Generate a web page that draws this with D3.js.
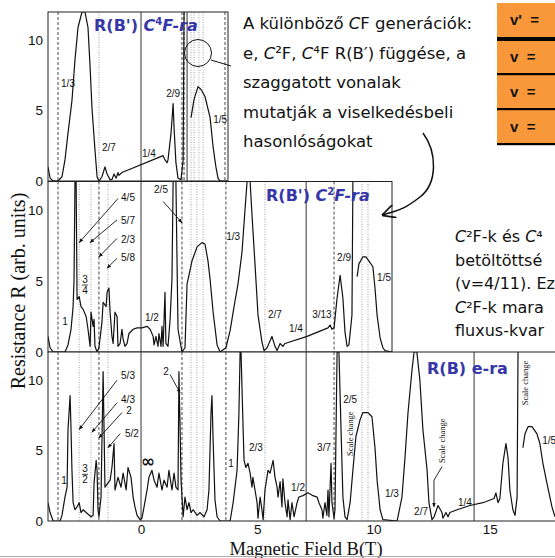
<!DOCTYPE html>
<html>
<head>
<meta charset="utf-8">
<script src="https://cdn.jsdelivr.net/npm/d3@7"></script>
<style>
  body { margin: 0; background: #fff; }
  svg { display: block; }
  .frac { font-family: "Liberation Sans", Arial, sans-serif; font-size: 10px; fill: #111; }
  .inf { font-family: "DejaVu Sans", sans-serif; font-size: 17px; font-weight: bold; fill: #111; }
  .scale { font-family: "Liberation Serif", serif; font-size: 8.5px; fill: #111; }
  .slide { font-family: "DejaVu Sans", sans-serif; font-size: 16.5px; fill: #111; }
  .side { font-family: "DejaVu Sans", sans-serif; font-size: 16px; fill: #111; }
  .title { font-family: "DejaVu Sans", sans-serif; font-weight: bold; font-size: 16px; fill: #3636a8; }
  .axis text { font-family: "Liberation Sans", Arial, sans-serif; font-size: 13.5px; fill: #111; }
  .axis path, .axis line { display: none; }
  .atitle { font-family: "Liberation Serif", serif; font-size: 18.5px; fill: #111; }
  .ytitle { font-family: "Liberation Serif", serif; font-size: 20px; fill: #111; }
  .cell { font-family: "Liberation Sans", Arial, sans-serif; font-size: 15px; font-weight: bold; fill: #111; }
</style>
</head>
<body>
<svg id="chart"></svg>
<script>
"use strict";

// ---- values: [B (T), R (arb. units)] ----
var xTicks = [0, 5, 10, 15];
var yTicks = [0, 5, 10];

// C4F panel, R(B')
var c4fCurveA = [[-4.00,1.0],[-3.91,0.2],[-3.78,0],[-3.57,0],[-3.40,0.3],[-3.27,1.5],[-3.14,3.4],[-2.97,5.7],
  [-2.84,8.6],[-2.71,10.9],[-2.54,12],[-2.41,12],[-2.28,10.9],[-2.19,8.1],[-2.11,5.2],[-1.98,2.2],[-1.89,0.3],
  [-1.81,0],[-1.68,0.3],[-1.55,1.0],[-1.46,0.5],[-1.33,0.1],[-1.25,0.1],[-1.16,0.5],[-1.07,0.2],[-0.99,0.6],
  [-0.95,0.4],[-0.82,0.6],[0.95,1.8],[1.03,1.5],[1.12,1.3],[1.16,1.5],[1.29,3.4],[1.38,5.5],[1.42,3.8],
  [1.50,1.3],[1.59,0.2],[1.72,0.1],[1.81,1.5],[1.85,12]];
var c4fCurveB = [[2.15,4.5],[2.28,5.8],[2.45,6.7],[2.58,6.5],[2.75,6.0],[2.97,4.5],[3.10,2.4],[3.22,1.0],
  [3.31,0.2],[3.40,0],[3.74,0]];

// C2F panel, R(B')
var c2fCurveA = [[-4.00,1.1],[-3.91,0.3],[-3.78,0],[-3.27,0],[-3.14,0.5],[-3.01,1.6],[-2.92,3.2],[-2.88,5.1],
  [-2.84,12],[-2.79,12],[-2.75,3.7],[-2.66,3.9],[-2.58,3.2],[-2.49,3.0],[-2.36,2.5],[-2.28,1.6],[-2.19,0.4],
  [-2.15,2.8],[-2.06,1.8],[-2.02,2.3],[-1.98,0.4],[-1.89,0],[-1.81,0.3],[-1.68,2.1],[-1.63,3.5],[-1.50,3.2],
  [-1.46,4.2],[-1.38,4.5],[-1.33,2.8],[-1.25,1.1],[-1.20,0.6],[-1.12,2.8],[-1.03,2.5],[-0.99,0.4],[-0.90,0.6],
  [-0.82,1.6],[-0.77,0.9],[-0.69,0.4],[-0.60,0.6],[-0.52,1.3],[-0.34,1.6],[-0.17,1.7],[0.04,1.7],[0.26,1.8],
  [0.39,1.6],[0.52,1.1],[0.56,0.5],[0.64,1.1],[0.73,0.4],[0.77,1.3],[0.86,0.4],[0.90,1.8],[0.95,0.4],
  [1.03,4.2],[1.07,0.6],[1.16,0.4],[1.25,2.3],[1.33,5.1],[1.38,12],[1.50,12],[1.59,1.6],[1.76,0],[1.89,0.3],
  [1.98,4.8],[2.19,6.4],[2.41,7.4],[2.62,7.7],[2.75,7.6],[2.88,6.4],[2.97,5.1],[3.10,2.8],[3.27,0.5],[3.40,0],
  [3.65,0.3],[3.83,1.5],[4.00,3.2],[4.17,4.8],[4.34,7.0],[4.47,10.0],[4.56,12],[4.69,12],[4.77,9.7],
  [4.90,6.2],[5.03,2.6],[5.20,0.7],[5.29,0.1],[5.42,0.3],[5.63,1.1],[5.76,0.4],[5.85,0.1],[5.98,0.6],
  [6.10,0.4],[6.19,0.6],[7.14,1.1],[8.04,1.7],[8.13,1.9],[8.21,1.6],[8.30,1.7],[8.43,3.8],[8.56,5.4],
  [8.68,3.8],[8.77,1.4],[8.86,0.4],[8.94,0.5],[9.07,2.6],[9.11,12]];
var c2fCurveB = [[9.29,5.3],[9.37,6.2],[9.54,6.7],[9.67,6.7],[9.80,6.4],[9.97,6.0],[10.06,4.5],[10.15,2.6],
  [10.28,1.0],[10.40,0.3],[10.49,0.1],[10.79,0]];

// electron panel, R(B)
var eCurveA = [[-4.00,1.3],[-3.91,0.6],[-3.78,0],[-3.48,0],[-3.40,0.4],[-3.27,1.7],[-3.18,2.4],[-3.14,6.5],
  [-3.05,8.9],[-3.01,6.5],[-2.97,3.6],[-2.92,1.3],[-2.84,0.8],[-2.75,1.0],[-2.66,1.3],[-2.58,0.6],[-2.49,0.8],
  [-2.36,0.6],[-2.15,0.3],[-2.06,0.4],[-2.02,2.7],[-1.93,4.3],[-1.89,3.6],[-1.85,0.8],[-1.81,0.3],[-1.72,1.7],
  [-1.63,10.6],[-1.59,6.5],[-1.55,2.4],[-1.33,2.9],[-1.25,3.8],[-1.16,5.5],[-1.12,2.2],[-0.99,3.1],[-0.86,2.4],
  [-0.77,3.4],[-0.64,2.2],[-0.56,3.8],[-0.43,3.1],[-0.34,1.7],[-0.26,1.0],[-0.17,0.4],[-0.04,0.1],[0.04,0.2],
  [0.13,1.0],[0.26,2.2],[0.34,3.1],[0.47,3.6],[0.56,2.9],[0.69,2.4],[0.77,3.4],[0.90,2.2],[0.99,2.9],
  [1.12,2.4],[1.20,3.6],[1.33,2.2],[1.42,3.4],[1.50,2.4],[1.59,2.2],[1.63,10.6],[1.68,6.5],[1.72,2.9],
  [1.81,0.3],[1.89,1.7],[1.98,0.8],[2.06,1.3],[2.15,0.6],[2.24,0.8],[2.41,0.4],[2.54,0.6],[2.71,0.3],
  [2.84,0.8],[2.92,2.2],[3.01,7.7],[3.05,8.9],[3.10,5.7],[3.18,1.5],[3.27,0.3],[3.40,0],[3.83,0],[3.96,1.3],
  [4.13,3.6],[4.21,7.7],[4.26,12],[4.30,12],[4.39,6.5],[4.43,4.3],[4.51,3.8],[4.60,4.1],[4.69,3.4],
  [4.77,2.4],[4.81,3.1],[4.90,2.2],[4.99,1.3],[5.03,0.2],[5.12,1.7],[5.20,0.8],[5.25,0.1],[5.33,2.2],
  [5.46,3.6],[5.55,3.4],[5.68,4.3],[5.76,3.1],[5.85,2.4],[5.89,1.7],[5.98,2.8],[6.06,1.0],[6.10,3.0],
  [6.19,1.3],[6.28,0.3],[6.32,1.5],[6.41,0.1],[6.49,1.3],[6.58,0.3],[6.71,1.3],[6.79,1.7],[6.96,1.8],
  [7.18,2.0],[7.39,1.8],[7.57,1.7],[7.65,1.3],[7.78,0.8],[7.82,0.2],[7.91,1.3],[7.99,0.4],[8.04,2.2],
  [8.08,0.3],[8.17,4.1],[8.21,1.3],[8.30,0.2],[8.34,0.8],[8.43,12],[8.51,12],[8.60,6.5],[8.68,1.7],
  [8.77,0.3],[8.86,0.1],[8.99,1.3],[9.11,3.6],[9.24,6.0],[9.42,7.2],[9.54,7.7],[9.76,7.7],[9.93,7.4],
  [10.06,5.2],[10.15,2.9],[10.28,0.8],[10.40,0.1],[11.01,0],[11.22,1.7],[11.35,4.5],[11.48,7.7],[11.65,10.7],
  [11.74,12],[11.86,12],[11.99,10],[12.12,6.5],[12.30,3.6],[12.38,1.3],[12.51,0.1],[12.60,0.3],[12.77,1.1],
  [12.94,0.6],[12.98,0.2],[13.11,0.6],[13.20,0.3],[13.28,0.6],[13.59,0.8],[14.14,1.1],[14.70,1.3],
  [15.18,1.6],[15.26,2.0],[15.35,1.3],[15.43,1.6],[15.56,4.1],[15.69,5.5],[15.78,4.5],[15.86,2.2],
  [15.99,0.8],[16.08,0.4],[16.17,1.7],[16.21,12]];
var eCurveB = [[16.42,5.2],[16.51,6.2],[16.64,6.7],[16.81,6.7],[17.02,6.2],[17.15,5.5],[17.28,4.1],
  [17.45,2.7],[17.67,1.0],[17.80,0.3]];

// guide lines [B, style]
var c4fGuides = [[-3.57,"dashed"],[-1.81,"dotted"],[0,"solid"],[1.76,"dashed"],[1.85,"dashed"],[1.98,"solid"],
  [2.15,"dotted"],[2.28,"dotted"],[2.49,"dotted"],[2.67,"dotted"],[3.61,"dashed"]];
var c2fGuides = [[-3.57,"dashed"],[-2.66,"dotted"],[-2.15,"dotted"],[-1.81,"dashed"],[-1.42,"dotted"],[0,"solid"],
  [1.76,"dashed"],[2.15,"dotted"],[2.40,"dotted"],[2.67,"dotted"],[3.65,"dashed"],[5.33,"dotted"],[7.10,"solid"],
  [8.30,"dashed"],[9.50,"dotted"],[9.76,"dotted"]];
var eGuides = c2fGuides.concat([[14.32,"solid"]]);

// fraction labels [B, R, text]
var c4fLabels = [[-3.14,6.7,"1/3"],[-1.38,2.1,"2/7"],[0.34,1.7,"1/4"],[1.38,6.0,"2/9"],[3.40,4.1,"1/5"]];
var c2fLabels = [[-0.56,10.6,"4/5"],[-0.56,9.0,"5/7"],[-0.56,7.7,"2/3"],[-0.56,6.4,"5/8"],[-3.27,1.9,"1"],
  [0.47,2.2,"1/2"],[0.86,11.2,"2/5"],[3.96,7.9,"1/3"],[5.76,2.4,"2/7"],[6.66,1.4,"1/4"],[7.78,2.4,"3/13"],
  [8.73,6.4,"2/9"],[10.45,5.0,"1/5"]];
var eLabels = [[-0.56,10.1,"5/3"],[-0.56,8.4,"4/3"],[-0.52,7.6,"2"],[-0.39,6.0,"5/2"],[-3.31,2.6,"1"],
  [1.07,10.4,"2"],[3.87,3.8,"1"],[4.94,5.0,"2/3"],[6.75,2.1,"1/2"],[7.87,5.0,"3/7"],[8.99,8.4,"2/5"],
  [10.79,1.7,"1/3"],[12.04,0.4,"2/7"],[13.93,1.1,"1/4"],[17.55,5.5,"1/5"]];
// stacked fractions [B, R of bar, top, bottom]
var c2fStacked = [[-2.41,4.75,"3","4"]];
var eStacked = [[-2.41,3.35,"3","2"]];
// pointer arrows [B1, R1, B2, R2]
var c2fArrows = [[-0.99,10.8,-2.66,7.7],[-1.03,9.3,-2.19,7.7],[-1.03,8.0,-1.81,6.7],[-1.03,6.6,-1.46,5.9],
  [0.95,10.6,1.76,9.1]];
var eArrows = [[-1.03,10.0,-2.66,6.5],[-1.03,8.4,-2.11,6.3],[-0.82,7.7,-1.81,5.9],[-0.90,6.2,-1.42,5.2],
  [1.25,10.4,1.68,9.1]];
// "Scale change" notes [B, R]
var scaleNotes = [[8.99,6.2],[12.94,5.7],[16.51,9.8]];

var slideLines = ["A különböző CF generációk:", "e, C²F, C⁴F R(B′) függése, a", "szaggatott vonalak",
  "mutatják a viselkedésbeli", "hasonlóságokat"];
var sideLines = ["C²F-k és C⁴", "betöltöttsé", "(v=4/11). Ez", "C²F-k mara", "fluxus-kvar"];
var tableRows = ["v' =", "v =", "v =", "v ="];

var FigureChart = (function(d3) {
  var _config = {
    width: 555,
    height: 558,
    left: 48,
    right: 555,
    xDomain: [-4.0, 17.8],
    panels: [
      {top: 12, bottom: 181, right: 228, curves: [c4fCurveA, c4fCurveB], guides: c4fGuides, labels: c4fLabels,
        stacked: [], arrows: []},
      {top: 181.5, bottom: 352, right: 392, curves: [c2fCurveA, c2fCurveB], guides: c2fGuides, labels: c2fLabels,
        stacked: c2fStacked, arrows: c2fArrows},
      {top: 352, bottom: 521, right: 556, curves: [eCurveA, eCurveB], guides: eGuides, labels: eLabels,
        stacked: eStacked, arrows: eArrows}
    ]
  };
  var _svg, _xScale;

  function _init() {
    _svg = d3.select("#chart")
      .attr("width", _config.width)
      .attr("height", _config.height);

    _xScale = d3.scaleLinear().domain(_config.xDomain).range([_config.left, _config.right]);

    var defs = _svg.append("defs");
    defs.append("marker").attr("id", "head")
      .attr("viewBox", "0 0 10 10").attr("refX", 9).attr("refY", 5)
      .attr("markerWidth", 5).attr("markerHeight", 5).attr("orient", "auto")
      .append("path").attr("d", "M0,1L10,5L0,9z").attr("fill", "#111");
    defs.append("marker").attr("id", "openhead")
      .attr("viewBox", "0 0 10 10").attr("refX", 9).attr("refY", 5)
      .attr("markerWidth", 9).attr("markerHeight", 9).attr("orient", "auto")
      .append("path").attr("d", "M0,0L10,5L0,10").attr("fill", "none").attr("stroke", "#111").attr("stroke-width", 1.3);

    _config.panels.forEach(_drawPanel);
    _drawAxes();
    _drawSlide();
  }

  function _defs() {
    return _svg.select("defs");
  }

  function _drawPanel(p, i) {
    var y = d3.scaleLinear().domain([0, 12]).range([p.bottom, p.top]);
    var g = _svg.append("g").attr("class", "panel");
    var clipId = "clip" + i;
    _defs().append("clipPath").attr("id", clipId)
      .append("rect")
      .attr("x", _config.left).attr("y", p.top)
      .attr("width", p.right - _config.left).attr("height", p.bottom - p.top);

    g.append("rect")
      .attr("x", _config.left).attr("y", p.top)
      .attr("width", p.right - _config.left).attr("height", p.bottom - p.top)
      .attr("fill", "#fff");

    // guide lines
    g.selectAll("line.guide")
      .data(p.guides.filter(function(d) { return _xScale(d[0]) < p.right; }))
      .enter().append("line")
      .attr("class", "guide")
      .attr("x1", function(d) { return _xScale(d[0]); })
      .attr("x2", function(d) { return _xScale(d[0]); })
      .attr("y1", p.top).attr("y2", p.bottom)
      .attr("stroke", function(d) { return d[1] === "dotted" ? "#999" : "#333"; })
      .attr("stroke-width", function(d) { return d[1] === "solid" ? 1 : 0.9; })
      .attr("stroke-dasharray", function(d) {
        return d[1] === "dashed" ? "3,2" : (d[1] === "dotted" ? "1,1.5" : null);
      });

    var line = d3.line()
      .x(function(d) { return _xScale(d[0]); })
      .y(function(d) { return y(d[1]); });

    g.append("g").attr("clip-path", "url(#" + clipId + ")")
      .selectAll("path")
      .data(p.curves)
      .enter().append("path")
      .attr("d", line)
      .attr("fill", "none")
      .attr("stroke", "#111")
      .attr("stroke-width", 1.2)
      .attr("stroke-linejoin", "round");

    // frame
    g.append("rect")
      .attr("x", _config.left).attr("y", p.top)
      .attr("width", p.right - _config.left).attr("height", p.bottom - p.top)
      .attr("fill", "none").attr("stroke", "#222").attr("stroke-width", 1);

    g.selectAll("text.frac")
      .data(p.labels)
      .enter().append("text")
      .attr("class", "frac")
      .attr("x", function(d) { return _xScale(d[0]); })
      .attr("y", function(d) { return y(d[1]); })
      .attr("text-anchor", "middle")
      .text(function(d) { return d[2]; });

    p.stacked.forEach(function(d) {
      var cx = _xScale(d[0]), cy = y(d[1]);
      g.append("text").attr("class", "frac").attr("x", cx).attr("y", cy - 2).attr("text-anchor", "middle").text(d[2]);
      g.append("line").attr("x1", cx - 3).attr("x2", cx + 3).attr("y1", cy + 0.5).attr("y2", cy + 0.5)
        .attr("stroke", "#111").attr("stroke-width", 0.8);
      g.append("text").attr("class", "frac").attr("x", cx).attr("y", cy + 9.5).attr("text-anchor", "middle").text(d[3]);
    });

    g.selectAll("line.ptr")
      .data(p.arrows)
      .enter().append("line")
      .attr("class", "ptr")
      .attr("x1", function(d) { return _xScale(d[0]); })
      .attr("y1", function(d) { return y(d[1]); })
      .attr("x2", function(d) { return _xScale(d[2]); })
      .attr("y2", function(d) { return y(d[3]); })
      .attr("stroke", "#111").attr("stroke-width", 0.9)
      .attr("marker-end", "url(#head)");

    g.append("g")
      .attr("class", "axis")
      .attr("transform", "translate(" + _config.left + ",0)")
      .call(d3.axisLeft(y).tickValues(yTicks).tickSize(0).tickPadding(5));

    if (i === 2) {
      _drawElectronExtras(g, y);
    }
  }

  function _drawElectronExtras(g, y) {
    g.selectAll("text.scale")
      .data(scaleNotes)
      .enter().append("text")
      .attr("class", "scale")
      .attr("text-anchor", "middle")
      .attr("transform", function(d) {
        return "translate(" + (_xScale(d[0]) + 3) + "," + y(d[1]) + ") rotate(-90)";
      })
      .text("Scale change");
    // pointer from the middle note down to the 2/7 dip
    var n = scaleNotes[1];
    var x0 = _xScale(n[0]);
    g.append("path")
      .attr("d", "M" + x0 + "," + (y(n[1]) + 26) + "L" + (x0 - 8) + "," + y(2.9) + "L" + (x0 - 8) + "," + y(1.0))
      .attr("fill", "none").attr("stroke", "#111").attr("stroke-width", 0.9)
      .attr("marker-end", "url(#head)");
    g.append("text").attr("class", "inf")
      .attr("x", _xScale(0.30)).attr("y", y(3.8)).attr("text-anchor", "middle").text("∞");
  }

  function _drawAxes() {
    var bottom = _config.panels[2].bottom;
    _svg.append("g")
      .attr("class", "axis")
      .attr("transform", "translate(0," + bottom + ")")
      .call(d3.axisBottom(_xScale).tickValues(xTicks).tickSize(0).tickPadding(3));

    _svg.append("text")
      .attr("class", "ytitle")
      .attr("text-anchor", "middle")
      .attr("transform", "translate(25,291) rotate(-90)")
      .text("Resistance R (arb. units)");

    _svg.append("text")
      .attr("class", "atitle")
      .attr("x", 306).attr("y", 555)
      .attr("text-anchor", "middle")
      .text("Magnetic Field B(T)");

    _svg.append("line")
      .attr("x1", 0).attr("x2", _config.width)
      .attr("y1", 556.5).attr("y2", 556.5)
      .attr("stroke", "#aaa").attr("stroke-width", 1);
  }

  function _title(x, y, plain, ital, sup, rest) {
    var t = _svg.append("text").attr("class", "title").attr("x", x).attr("y", y);
    t.append("tspan").text(plain);
    if (ital) {
      t.append("tspan").attr("font-style", "italic").text(ital);
      t.append("tspan").attr("font-size", "10px").attr("dy", -6).text(sup);
      t.append("tspan").attr("font-style", "italic").attr("dy", 6).text(rest);
    }
  }

  // write a line, setting the composite-fermion "C" in italics
  function _richLine(sel) {
    sel.each(function(d) {
      var t = d3.select(this);
      d.split(/(C(?=[²⁴F]))/).forEach(function(part) {
        if (!part) return;
        var ts = t.append("tspan").text(part);
        if (part === "C") ts.attr("font-style", "italic");
      });
    });
  }

  function _drawSlide() {
    _title(94, 31, "R(B') ", "C", "4", "F-ra");
    _title(266, 201, "R(B') ", "C", "2", "F-ra");
    _title(427, 374, "R(B) e-ra", null);

    // circle marking the 1/5 region
    _svg.append("circle").attr("cx", 198).attr("cy", 53).attr("r", 13.5)
      .attr("fill", "none").attr("stroke", "#111").attr("stroke-width", 1);
    _svg.append("line").attr("x1", 211).attr("y1", 60).attr("x2", 231).attr("y2", 66)
      .attr("stroke", "#111").attr("stroke-width", 1);

    _svg.append("g").attr("class", "slide")
      .selectAll("text")
      .data(slideLines)
      .enter().append("text")
      .attr("x", 243)
      .attr("y", function(d, i) { return 29 + i * 29.5; })
      .call(_richLine);

    _svg.append("g").attr("class", "side")
      .selectAll("text")
      .data(sideLines)
      .enter().append("text")
      .attr("x", 455)
      .attr("y", function(d, i) { return 242 + i * 23.5; })
      .call(_richLine);

    _svg.append("path")
      .attr("d", "M423,133 C437,152 438,183 420,197 S398,210 383,215")
      .attr("fill", "none").attr("stroke", "#111").attr("stroke-width", 1.5)
      .attr("marker-end", "url(#openhead)");

    // orange table
    var rowTop = [3, 41, 75, 110];
    var rowBot = [37, 73, 108, 143];
    var tbl = _svg.append("g");
    tbl.selectAll("rect.cell")
      .data(tableRows)
      .enter().append("rect")
      .attr("x", 497).attr("width", 60)
      .attr("y", function(d, i) { return rowTop[i]; })
      .attr("height", function(d, i) { return rowBot[i] - rowTop[i]; })
      .attr("fill", "#f8983b");
    tbl.selectAll("rect.sep")
      .data(tableRows)
      .enter().append("rect")
      .attr("x", 497).attr("width", 60)
      .attr("y", function(d, i) { return rowBot[i]; })
      .attr("height", function(d, i) { return i === 0 ? 4 : 2.2; })
      .attr("fill", "#000");
    tbl.selectAll("text")
      .data(tableRows)
      .enter().append("text")
      .attr("class", "cell")
      .attr("x", 510)
      .attr("y", function(d, i) { return (rowTop[i] + rowBot[i]) / 2 + 5; })
      .attr("xml:space", "preserve")
      .text(function(d) { return d.replace(" =", "  ="); });
  }

  return { config: _config, init: _init };
})(d3);

FigureChart.init();
</script>
</body>
</html>
